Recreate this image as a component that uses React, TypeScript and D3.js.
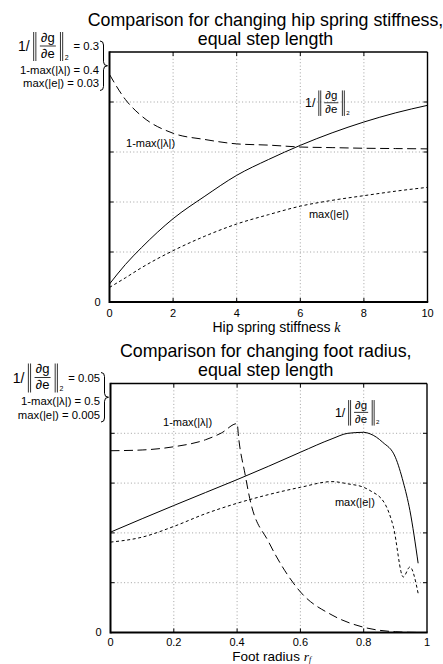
import React from "react";
import * as d3 from "d3";

// Sweep 1: hip spring stiffness k
const hipK = [0, 0.5, 1, 2, 3, 4, 5, 6, 7, 8, 9, 10];
const hipInvNorm = [0.0216, 0.045, 0.065, 0.1, 0.127, 0.152, 0.171, 0.188, 0.203, 0.216, 0.227, 0.236];
const hipEigMargin = [0.364, 0.324, 0.298, 0.27, 0.26, 0.253, 0.251, 0.248, 0.247, 0.246, 0.2455, 0.245];
const hipMaxErr = [0.00175, 0.0029, 0.0041, 0.00616, 0.0079, 0.00936, 0.01048, 0.0115, 0.0122, 0.01276, 0.0133, 0.01376];
const hipTicks = [0, 2, 4, 6, 8, 10];
// full-scale values: 1/||dg/de||, 1-max|lambda|, max|e|
const hipFullScale = [0.3, 0.4, 0.03];

// Sweep 2: foot radius r_f
const footRNorm = [0, 0.1, 0.2, 0.3, 0.4, 0.5, 0.6, 0.7, 0.75, 0.8, 0.82, 0.86, 0.9, 0.925, 0.946, 0.972];
const footInvNorm = [0.02015, 0.02285, 0.0255, 0.0281, 0.0307, 0.0334, 0.0362, 0.0389, 0.04, 0.0402, 0.0399, 0.0382, 0.0352, 0.0302, 0.0245, 0.0139];
const footREig = [0, 0.1, 0.2, 0.3, 0.35, 0.4, 0.405, 0.425, 0.44, 0.5, 0.55, 0.6, 0.7, 0.8, 0.9, 0.975];
const footEigMargin = [0.365, 0.3665, 0.373, 0.387, 0.4005, 0.4195, 0.39, 0.3185, 0.269, 0.1815, 0.125, 0.0815, 0.035, 0.0105, 0.0015, 0];
const footRErr = [0, 0.1, 0.2, 0.3, 0.4, 0.5, 0.6, 0.7, 0.75, 0.8, 0.82, 0.867, 0.894, 0.925, 0.946, 0.972];
const footMaxErr = [0.001815, 0.001915, 0.00213, 0.002385, 0.002595, 0.00277, 0.002915, 0.00303, 0.002985, 0.002915, 0.00285, 0.002585, 0.002115, 0.001115, 0.001315, 0.000785];
const footTicks = [0, 0.2, 0.4, 0.6, 0.8, 1];
const footFullScale = [0.05, 0.5, 0.005];

const SANS = '"Liberation Sans", Arial, Helvetica, sans-serif';
const SERIF = '"Liberation Serif", "Times New Roman", serif';

let measureCtx: CanvasRenderingContext2D | null = null;
function textWidth(s: string, size: number): number {
  if (!measureCtx) measureCtx = document.createElement("canvas").getContext("2d");
  if (!measureCtx) return s.length * size * 0.55;
  measureCtx.font = `${size}px "Liberation Sans", Arial, sans-serif`;
  return measureCtx.measureText(s).width;
}

// 1/||dg/de||_2 drawn with a stacked fraction; (x, y) = left edge, fraction bar
function NormExpr({ x, y, s }: { x: number; y: number; s: number }) {
  const bar = (bx: number) => (
    <line x1={x + bx * s} x2={x + bx * s} y1={y - 14 * s} y2={y + 15 * s} stroke="#000" strokeWidth={0.8} />
  );
  return (
    <g fontFamily={SANS} fill="#000">
      <text x={x} y={y + 5 * s} fontSize={14 * s}>1/</text>
      {bar(15.6)}
      {bar(17.8)}
      <text x={x + 29.8 * s} y={y - 4.2 * s} fontSize={13 * s} textAnchor="middle">∂g</text>
      <line x1={x + 21.8 * s} x2={x + 37.8 * s} y1={y} y2={y} stroke="#000" strokeWidth={0.8} />
      <text x={x + 29.8 * s} y={y + 11.6 * s} fontSize={13 * s} textAnchor="middle">∂e</text>
      {bar(42.4)}
      {bar(44.6)}
      <text x={x + 46.8 * s} y={y + 13.5 * s} fontSize={7 * s}>2</text>
    </g>
  );
}
const NORM_W = 51;

function bracePath(x: number, y1: number, y2: number) {
  const ym = (y1 + y2) / 2;
  const m = x + 3.5;
  const t = x + 7.5;
  return `M${x},${y1} Q${m},${y1} ${m},${y1 + 4} L${m},${ym - 4} Q${m},${ym} ${t},${ym} Q${m},${ym} ${m},${ym + 4} L${m},${y2 - 4} Q${m},${y2} ${x},${y2}`;
}

type Series = { xs: number[]; ys: number[]; full: number; dash?: string };

type PanelProps = {
  left: number;
  right: number;
  top: number;
  bottom: number;
  xDomain: [number, number];
  xTicks: number[];
  series: Series[];
  title: [string, string];
  xLabel: React.ReactNode;
  xLabelShift: number;
  xLabelDy: number;
  xLabelSize: number;
  tickDy: number;
  fullScale: number[];
  normLabel: [number, number];
  eigLabel: [number, number];
  errLabel: [number, number];
};

function Panel(p: PanelProps) {
  const x = d3.scaleLinear().domain(p.xDomain).range([p.left, p.right]);
  const yUnit = d3.scaleLinear().domain([0, 1]).range([p.bottom, p.top]);
  const yTicks = yUnit.ticks(5);
  const inner = (v: number, ticks: number[]) => v !== ticks[0] && v !== ticks[ticks.length - 1];
  const cx = (p.left + p.right) / 2;

  const annRight = p.left - 10.5;
  const valFont = 11.3;
  const normVal = `= ${p.fullScale[0]}`;
  const normLeft = annRight - textWidth(normVal, valFont) - 4.5 - NORM_W;

  return (
    <g>
      {/* title */}
      <g fontFamily={SANS} fontSize={17.8} textAnchor="middle" fill="#000">
        <text x={cx - 3} y={p.top - 26.5}>{p.title[0]}</text>
        <text x={cx - 3} y={p.top - 7.5}>{p.title[1]}</text>
      </g>

      {/* grid */}
      <g stroke="#8a8a8a" strokeWidth={0.8} strokeDasharray="1 2.4">
        {p.xTicks.filter((t) => inner(t, p.xTicks)).map((t) => (
          <line key={"gx" + t} x1={x(t)} x2={x(t)} y1={p.top} y2={p.bottom} />
        ))}
        {yTicks.filter((t) => inner(t, yTicks)).map((t) => (
          <line key={"gy" + t} x1={p.left} x2={p.right} y1={yUnit(t)} y2={yUnit(t)} />
        ))}
      </g>

      {/* tick marks */}
      <g stroke="#000" strokeWidth={1}>
        {p.xTicks.filter((t) => inner(t, p.xTicks)).map((t) => (
          <g key={"tx" + t}>
            <line x1={x(t)} x2={x(t)} y1={p.bottom} y2={p.bottom - 4} />
            <line x1={x(t)} x2={x(t)} y1={p.top} y2={p.top + 4} />
          </g>
        ))}
        {yTicks.filter((t) => inner(t, yTicks)).map((t) => (
          <g key={"ty" + t}>
            <line x1={p.left} x2={p.left + 4} y1={yUnit(t)} y2={yUnit(t)} />
            <line x1={p.right} x2={p.right - 4} y1={yUnit(t)} y2={yUnit(t)} />
          </g>
        ))}
      </g>

      {/* series */}
      {p.series.map((s, i) => {
        const ys = d3.scaleLinear().domain([0, s.full]).range([p.bottom, p.top]);
        const line = d3
          .line<number>()
          .x((_, j) => x(s.xs[j]))
          .y((v) => ys(v))
          .curve(d3.curveMonotoneX);
        return (
          <path key={i} d={line(s.ys) || ""} fill="none" stroke="#000" strokeWidth={1} strokeDasharray={s.dash} />
        );
      })}

      {/* frame */}
      <line x1={p.left} x2={p.right} y1={p.top} y2={p.top} stroke="#000" strokeWidth={1.4} />
      <line x1={p.right} x2={p.right} y1={p.top} y2={p.bottom} stroke="#000" strokeWidth={1.4} />
      <line x1={p.left} x2={p.left} y1={p.top - 0.7} y2={p.bottom + 1} stroke="#000" strokeWidth={2} />
      <line x1={p.left} x2={p.right + 0.7} y1={p.bottom} y2={p.bottom} stroke="#000" strokeWidth={2} />

      {/* tick labels */}
      <g fontFamily={SANS} fontSize={11} fill="#000" textAnchor="middle">
        {p.xTicks.map((t) => (
          <text key={"lx" + t} x={x(t)} y={p.bottom + p.tickDy}>{t}</text>
        ))}
        <text x={p.left - 9} y={p.bottom + 3.5} textAnchor="end">0</text>
      </g>

      {/* axis label */}
      <text
        x={cx + p.xLabelShift}
        y={p.bottom + p.xLabelDy}
        fontFamily={SANS}
        fontSize={p.xLabelSize}
        textAnchor="middle"
        fill="#000"
      >
        {p.xLabel}
      </text>

      {/* full-scale annotation */}
      <NormExpr x={normLeft} y={p.top - 6} s={1} />
      <g fontFamily={SANS} fontSize={valFont} fill="#000" textAnchor="end">
        <text x={annRight} y={p.top - 2}>{normVal}</text>
        <text x={annRight} y={p.top + 21.5}>{`1-max(|λ|) = ${p.fullScale[1]}`}</text>
        <text x={annRight} y={p.top + 35}>{`max(|e|) = ${p.fullScale[2]}`}</text>
      </g>
      <path d={bracePath(p.left - 9.5, p.top - 11, p.top + 38.5)} fill="none" stroke="#000" strokeWidth={1} />

      {/* curve labels */}
      <NormExpr x={x(p.normLabel[0])} y={yUnit(p.normLabel[1])} s={0.88} />
      <g fontFamily={SANS} fontSize={11} fill="#000">
        <text x={x(p.eigLabel[0])} y={yUnit(p.eigLabel[1])}>1-max(|λ|)</text>
        <text x={x(p.errLabel[0])} y={yUnit(p.errLabel[1])}>max(|e|)</text>
      </g>
    </g>
  );
}

export default function App() {
  return (
    <svg
      width={443}
      height={664}
      viewBox="0 0 443 664"
      style={{ position: "absolute", left: 0, top: 0, background: "#fff" }}
    >
      <rect width={443} height={664} fill="#fff" />
      <Panel
        left={109.5}
        right={427.5}
        top={52}
        bottom={302}
        xDomain={[0, 10]}
        xTicks={hipTicks}
        series={[
          { xs: hipK, ys: hipInvNorm, full: hipFullScale[0] },
          { xs: hipK, ys: hipEigMargin, full: hipFullScale[1], dash: "9 4.5" },
          { xs: hipK, ys: hipMaxErr, full: hipFullScale[2], dash: "3 2.6" },
        ]}
        title={["Comparison for changing hip spring stiffness,", "equal step length"]}
        xLabel={
          <>
            Hip spring stiffness{" "}
            <tspan fontFamily={SERIF} fontStyle="italic">k</tspan>
          </>
        }
        xLabelShift={8}
        xLabelDy={30}
        xLabelSize={14}
        tickDy={14.5}
        fullScale={hipFullScale}
        normLabel={[6.15, 0.797]}
        eigLabel={[0.52, 0.622]}
        errLabel={[6.27, 0.336]}
      />
      <Panel
        left={110.5}
        right={427}
        top={383.5}
        bottom={632.5}
        xDomain={[0, 1]}
        xTicks={footTicks}
        series={[
          { xs: footRNorm, ys: footInvNorm, full: footFullScale[0] },
          { xs: footREig, ys: footEigMargin, full: footFullScale[1], dash: "9 4.5" },
          { xs: footRErr, ys: footMaxErr, full: footFullScale[2], dash: "3 2.6" },
        ]}
        title={["Comparison for changing foot radius,", "equal step length"]}
        xLabel={
          <>
            Foot radius{" "}
            <tspan fontFamily={SERIF} fontStyle="italic">r</tspan>
            <tspan fontFamily={SERIF} fontStyle="italic" fontSize={8} dy={1.2}>f</tspan>
          </>
        }
        xLabelShift={3}
        xLabelDy={28}
        xLabelSize={13.5}
        tickDy={13.5}
        fullScale={footFullScale}
        normLabel={[0.709, 0.884]}
        eigLabel={[0.166, 0.829]}
        errLabel={[0.709, 0.508]}
      />
    </svg>
  );
}
